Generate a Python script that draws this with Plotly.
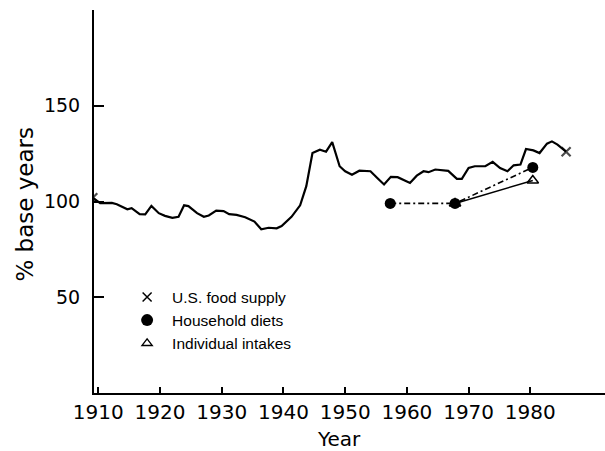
import plotly.graph_objects as go

# U.S. food supply index, % of base years
supply_years = [1909.1, 1910.3, 1912.2, 1913.0, 1914.7, 1915.4, 1916.7, 1917.6, 1918.6, 1919.8,
                1920.8, 1922.0, 1923.0, 1923.9, 1924.6, 1926.0, 1927.1, 1927.9, 1929.1, 1930.3,
                1931.2, 1932.4, 1933.8, 1935.3, 1936.4, 1937.6, 1938.9, 1939.7, 1941.3, 1942.7,
                1943.7, 1944.7, 1945.9, 1946.9, 1947.9, 1949.1, 1950.0, 1951.1, 1952.3, 1954.1,
                1955.2, 1956.3, 1957.4, 1958.5, 1960.5, 1961.6, 1962.7, 1963.5, 1964.6, 1965.4,
                1966.7, 1968.1, 1968.9, 1970.0, 1971.0, 1972.7, 1973.9, 1975.1, 1976.3, 1977.3,
                1978.4, 1979.3, 1980.5, 1981.5, 1982.7, 1983.5, 1984.4, 1985.8]
supply_values = [102.0, 99.2, 99.3, 98.6, 95.9, 96.5, 93.4, 93.3, 97.7, 93.9,
                 92.5, 91.5, 92.0, 98.0, 97.6, 93.9, 92.0, 92.7, 95.2, 95.0,
                 93.4, 93.0, 91.8, 89.5, 85.5, 86.3, 86.0, 87.2, 92.0, 98.0,
                 108.0, 125.3, 127.0, 126.0, 131.0, 118.4, 115.8, 114.0, 116.1, 115.8,
                 112.3, 108.9, 112.9, 112.7, 109.7, 113.5, 115.8, 115.3, 116.7, 116.3,
                 116.0, 111.8, 111.8, 117.5, 118.4, 118.4, 120.7, 117.5, 115.8, 118.9,
                 119.3, 127.4, 126.7, 125.3, 130.2, 131.4, 129.7, 126.0]

# Household food consumption surveys
household_years = [1957.3, 1967.8, 1980.4]
household_values = [99.0, 99.0, 117.8]

# Individual intake surveys
individual_years = [1967.8, 1980.4]
individual_values = [99.0, 111.0]

x_ticks = [1910, 1920, 1930, 1940, 1950, 1960, 1970, 1980]
y_ticks = [50, 100, 150, 200]
y_tick_text = ["50", "100", "150", ""]

legend_names = ["U.S. food supply", "Household diets", "Individual intakes"]

fig = go.Figure()

# food supply curve, with x marks at both ends only
end_sizes = [9] + [0] * (len(supply_years) - 2) + [9]
fig.add_trace(go.Scatter(
    x=supply_years, y=supply_values, mode="lines+markers",
    line=dict(color="black", width=2.2),
    marker=dict(symbol="x-thin", size=end_sizes, color="black",
                line=dict(color="black", width=2.2)),
    showlegend=False, hoverinfo="skip"))

fig.add_trace(go.Scatter(
    x=individual_years, y=individual_values, mode="lines+markers",
    line=dict(color="black", width=1.5),
    marker=dict(symbol="triangle-up-open", size=10, color="black",
                line=dict(color="black", width=1.5)),
    showlegend=False, hoverinfo="skip"))

fig.add_trace(go.Scatter(
    x=household_years, y=household_values, mode="lines+markers",
    line=dict(color="black", width=1.6, dash="6px,3px,2px,3px"),
    marker=dict(symbol="circle", size=11, color="black"),
    showlegend=False, hoverinfo="skip"))

# legend keys: symbols only
legend_symbols = [("x-thin", 9, 1.5), ("circle", 12, 0), ("triangle-up-open", 9, 1.3)]
for name, (sym, size, lw) in zip(legend_names, legend_symbols):
    fig.add_trace(go.Scatter(
        x=[None], y=[None], mode="markers", name=name,
        marker=dict(symbol=sym, size=size, color="black",
                    line=dict(color="black", width=lw))))

fig.update_layout(
    width=605, height=451,
    margin=dict(l=94, r=0, t=10, b=58),
    paper_bgcolor="white", plot_bgcolor="white",
    font=dict(family="DejaVu Sans", color="black"),
    legend=dict(x=0.055, y=0.294, xanchor="left", yanchor="top",
                bgcolor="rgba(0,0,0,0)", itemwidth=40,
                font=dict(family="Liberation Sans", size=15.5, color="black")),
    xaxis=dict(range=[1909.3, 1992.1], tickvals=x_ticks,
               showline=True, linecolor="black", linewidth=1.5,
               ticks="inside", ticklen=6, tickwidth=1.5, tickcolor="black",
               showgrid=False, zeroline=False,
               tickfont=dict(family="DejaVu Sans", size=20, color="black")),
    yaxis=dict(range=[0, 200], tickvals=y_ticks, ticktext=y_tick_text,
               showline=True, linecolor="black", linewidth=2,
               ticks="inside", ticklen=10, tickwidth=1.5, tickcolor="black",
               showgrid=False, zeroline=False, ticklabelstandoff=8,
               tickfont=dict(family="DejaVu Sans", size=19, color="black")),
    annotations=[
        dict(text="% base years", xref="paper", yref="paper",
             x=-0.135, y=0.492, xanchor="center", yanchor="middle",
             textangle=-90, showarrow=False,
             font=dict(family="DejaVu Sans", size=23, color="black")),
        dict(text="Year", xref="paper", yref="paper",
             x=0.479, y=-0.12, xanchor="center", yanchor="middle",
             showarrow=False,
             font=dict(family="DejaVu Sans", size=20, color="black")),
    ],
)

fig.write_html("out.html")
